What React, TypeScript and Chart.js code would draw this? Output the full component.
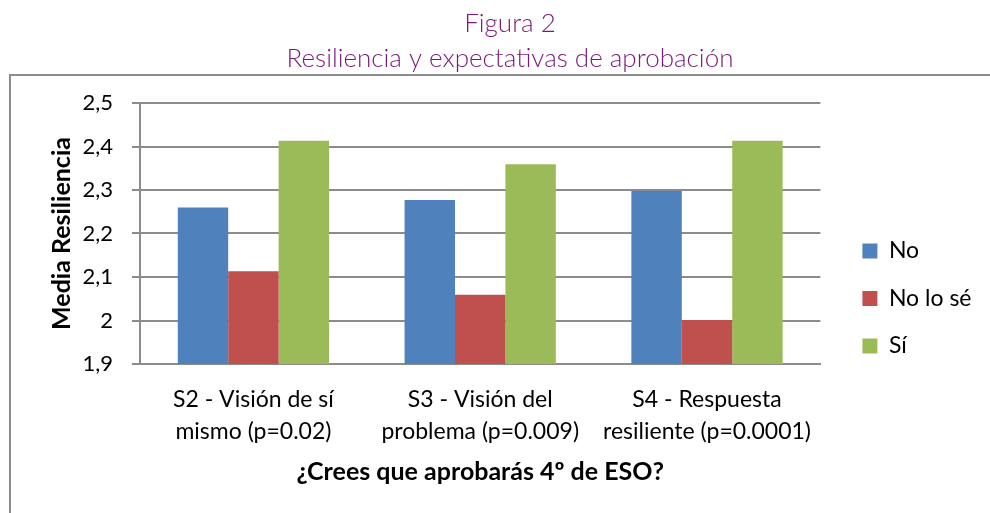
import React, { useEffect, useRef } from 'react';
import { Chart, registerables } from 'chart.js';

Chart.register(...registerables);

// ---- data ----
const categories: string[][] = [
  ['S2 - Visión de sí', 'mismo (p=0.02)'],
  ['S3 - Visión del', 'problema (p=0.009)'],
  ['S4 - Respuesta', 'resiliente (p=0.0001)'],
];
const seriesNames = ['No', 'No lo sé', 'Sí'];
const noValues = [2.26, 2.277, 2.298];
const noLoSeValues = [2.113, 2.059, 2.001];
const siValues = [2.413, 2.359, 2.413];
const seriesColors = ['#4F81BD', '#C0504D', '#9BBB59'];
const yMin = 1.9;
const yMax = 2.5;
const yStep = 0.1;
const titleLines = ['Figura 2', 'Resiliencia y expectativas de aprobación'];
const yAxisTitle = 'Media Resiliencia';
const xAxisTitle = '¿Crees que aprobarás 4º de ESO?';

const BODY_FONT = 'Lato, "Open Sans", sans-serif';
const GRID = '#8c8c8c';

const framePlugin = {
  id: 'frame',
  beforeDraw(chart: any) {
    const ctx = chart.ctx;
    ctx.save();
    ctx.fillStyle = '#ffffff';
    ctx.fillRect(0, 0, chart.width, chart.height);
    ctx.strokeStyle = GRID;
    ctx.lineWidth = 2;
    ctx.strokeRect(10, 75, 1200, 800);
    ctx.restore();
  },
};

export default function App() {
  const ref = useRef<HTMLCanvasElement | null>(null);

  useEffect(() => {
    if (!ref.current) return;
    const chart = new Chart(ref.current, {
      type: 'bar',
      data: {
        labels: categories,
        datasets: [
          { label: seriesNames[0], data: noValues, backgroundColor: seriesColors[0] },
          { label: seriesNames[1], data: noLoSeValues, backgroundColor: seriesColors[1] },
          { label: seriesNames[2], data: siValues, backgroundColor: seriesColors[2] },
        ],
      },
      options: {
        animation: false,
        responsive: false,
        devicePixelRatio: 1,
        datasets: { bar: { categoryPercentage: 0.667, barPercentage: 1.0 } },
        layout: { padding: { left: 38.5, right: 8.5, top: 0, bottom: 0 } },
        plugins: {
          tooltip: { enabled: false },
          title: {
            display: true,
            text: titleLines,
            color: '#7a1a78',
            font: { family: 'Lato', size: 26, weight: 300 as any, lineHeight: 35 / 26 },
            padding: { top: 6.5, bottom: 26.5 },
          },
          legend: {
            display: true,
            position: 'right',
            align: 'start',
            title: {
              display: true,
              text: ' ',
              font: { family: BODY_FONT, size: 20, lineHeight: 1 },
              padding: { top: 195, bottom: 0 },
            },
            labels: {
              color: '#000',
              font: { family: BODY_FONT, size: 23 },
              boxWidth: 15,
              boxHeight: 15,
              padding: 24.5,
            },
          },
        },
        scales: {
          x: {
            grid: { display: false, drawTicks: false },
            border: { display: true, color: GRID, width: 2 },
            ticks: {
              color: '#000',
              font: { family: BODY_FONT, size: 23, lineHeight: 32 / 23 },
              padding: 20,
              maxRotation: 0,
              autoSkip: false,
            },
            title: {
              display: true,
              text: xAxisTitle,
              color: '#000',
              font: { family: BODY_FONT, size: 25, weight: 'bold', lineHeight: 1.2 },
              padding: { top: 0, bottom: 26 },
            },
            afterFit(s: any) {
              s.height = 149;
            },
          },
          y: {
            min: yMin,
            max: yMax,
            ticks: {
              stepSize: yStep,
              color: '#000',
              font: { family: BODY_FONT, size: 22 },
              padding: 19,
              callback: (v: any) => String(Math.round(Number(v) * 10) / 10).replace('.', ','),
            },
            grid: { color: GRID, lineWidth: 2, tickLength: 8, drawTicks: true },
            border: { display: true, color: GRID, width: 2 },
            title: {
              display: true,
              text: yAxisTitle,
              color: '#000',
              font: { family: BODY_FONT, size: 25, weight: 'bold', lineHeight: 1.2 },
              padding: { top: 8.5, bottom: 0 },
            },
            afterFit(s: any) {
              s.width = 101.5;
            },
          },
          gap: {
            type: 'linear',
            position: 'right',
            display: true,
            grid: { display: false, drawTicks: false },
            ticks: { display: false },
            border: { display: false },
            afterFit(s: any) {
              s.width = 17.5;
            },
          },
        },
      } as any,
      plugins: [framePlugin],
    });
    return () => chart.destroy();
  }, []);

  return (
    <div style={{ position: 'absolute', left: 0, top: 0, width: 990, height: 513 }}>
      <canvas ref={ref} width={990} height={513} style={{ display: 'block' }} />
    </div>
  );
}
